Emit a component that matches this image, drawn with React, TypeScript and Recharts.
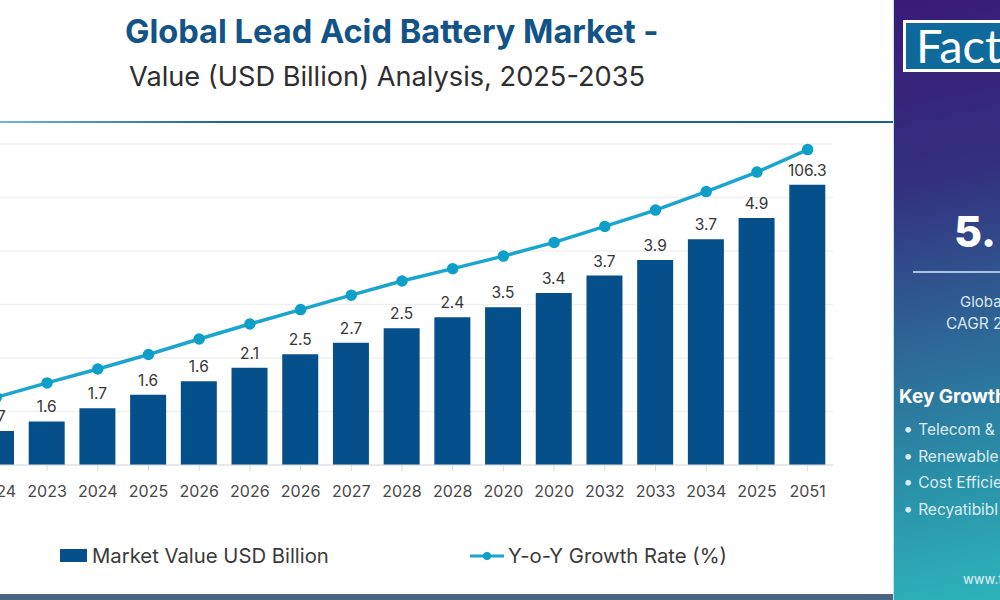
import {
  ComposedChart,
  Bar,
  Line,
  XAxis,
  YAxis,
  CartesianGrid,
  Legend,
  LabelList,
} from "recharts";

const FONT = "Inter, 'Open Sans', sans-serif";

const years = [
  "2024", "2023", "2024", "2025", "2026", "2026", "2026", "2027", "2028",
  "2028", "2020", "2020", "2032", "2033", "2034", "2025", "2051",
];

// printed labels do not follow the bar heights in the picture, so they are kept apart
const barLabels = [
  "1.7", "1.6", "1.7", "1.6", "1.6", "2.1", "2.5", "2.7", "2.5",
  "2.4", "3.5", "3.4", "3.7", "3.9", "3.7", "4.9", "106.3",
];

const marketValue = [
  12.7, 16.3, 21.2, 26.3, 31.3, 36.4, 41.4, 45.7, 51.1,
  55.2, 59, 64.3, 70.8, 76.6, 84.4, 92.3, 104.8,
];

const growthRate = [
  25.3, 30.7, 35.9, 41.3, 47.1, 52.7, 58.1, 63.5, 68.8,
  73.4, 78.1, 83.2, 89.2, 95.3, 102.2, 109.5, 117.9,
];

const yTicks = [0, 20, 40, 60, 80, 100, 120];

const drivers = ["Telecom &", "Renewable", "Cost Efficie", "Recyatibibl"];

const chartData = years.map((year, i) => ({
  year,
  label: barLabels[i],
  value: marketValue[i],
  growth: growthRate[i],
}));

function ChartLegend({ payload }: any) {
  return (
    <div style={{ position: "relative", height: 30, fontFamily: FONT, fontSize: 20.3, color: "#3a3a3a" }}>
      {(payload || []).map((item: any) =>
        item.dataKey === "value" ? (
          <div key="value" style={{ position: "absolute", left: 100, top: 2, display: "flex", alignItems: "center", whiteSpace: "nowrap" }}>
            <span style={{ width: 27, height: 13, background: item.color, marginRight: 5 }} />
            {item.value}
          </div>
        ) : (
          <div key="growth" style={{ position: "absolute", left: 509, top: 2, display: "flex", alignItems: "center", whiteSpace: "nowrap" }}>
            <svg width={36} height={14} style={{ marginRight: 3 }}>
              <line x1={1} y1={7} x2={35} y2={7} stroke={item.color} strokeWidth={3} />
              <circle cx={18} cy={7} r={4} fill="#0e9fc9" />
            </svg>
            {item.value}
          </div>
        )
      )}
    </div>
  );
}

function SidePanel() {
  return (
    <div
      style={{
        position: "absolute",
        left: 893,
        top: 0,
        width: 107,
        height: 600,
        overflow: "hidden",
        borderLeft: "1px solid #bfe3ee",
        boxSizing: "border-box",
        background: "linear-gradient(168deg, #3a1b78 0%, #33307f 30%, #2d6a98 58%, #2a8fa8 78%, #2db4ba 100%)",
        color: "#fff",
        fontFamily: FONT,
        whiteSpace: "nowrap",
      }}
    >
      <div style={{ position: "absolute", left: 9, top: 20, width: 140, height: 46, border: "3px solid #fff", background: "#0f6a9c", fontFamily: "Lato, sans-serif", fontSize: 47, lineHeight: "44px", paddingLeft: 10 }}>
        Fact
      </div>
      <div style={{ position: "absolute", left: 60, top: 205, fontSize: 43, fontWeight: 800 }}>5.</div>
      <div style={{ position: "absolute", left: 19, top: 271, width: 100, height: 2, background: "#a9c4dc" }} />
      <div style={{ position: "absolute", left: 66, top: 292, fontSize: 15, color: "#dbe8f0" }}>Global</div>
      <div style={{ position: "absolute", left: 52, top: 314, fontSize: 15.5, color: "#dbe8f0" }}>CAGR 2</div>
      <div style={{ position: "absolute", left: 5, top: 385, fontSize: 19, fontWeight: 700 }}>Key Growth</div>
      {drivers.map((d, i) => (
        <div key={d} style={{ position: "absolute", left: 9, top: 420 + i * 26.5, fontSize: 15.5, color: "#dcecf2" }}>
          <span style={{ marginRight: 5, fontSize: 18, lineHeight: "16px" }}>•</span>
          {d}
        </div>
      ))}
      <div style={{ position: "absolute", left: 69, top: 571, fontSize: 13, fontWeight: 500, color: "#d5e9ee" }}>www.f</div>
    </div>
  );
}

export default function App() {
  return (
    <div style={{ position: "absolute", left: 0, top: 0, width: 1000, height: 600, overflow: "hidden", background: "#fff" }}>
      <div style={{ position: "absolute", left: 125, top: 11, fontFamily: FONT, fontSize: 32.6, fontWeight: 700, color: "#125488", whiteSpace: "nowrap" }}>
        Global Lead Acid Battery Market -
      </div>
      <div style={{ position: "absolute", left: 129, top: 60, fontFamily: FONT, fontSize: 27.2, color: "#2e2e2e", whiteSpace: "nowrap" }}>
        Value (USD Billion) Analysis, 2025-2035
      </div>
      <div style={{ position: "absolute", left: 0, top: 121, width: 893, height: 2, background: "linear-gradient(90deg, #6fb6d6 0%, #1f6494 25%, #1f5f8e 100%)" }} />

      <div style={{ position: "absolute", left: -40, top: 0 }}>
        <ComposedChart
          width={900}
          height={600}
          data={chartData}
          margin={{ top: 144, right: 27, bottom: 105, left: 11 }}
        >
          <CartesianGrid vertical={false} stroke="#f0f0f0" strokeWidth={1.5} />
          <XAxis
            dataKey="year"
            interval={0}
            height={30}
            stroke="#dcdcdc"
            tickSize={6}
            tickMargin={15}
            tick={{ fill: "#474747", fontSize: 16, fontFamily: FONT }}
          />
          <YAxis hide domain={[0, 120]} ticks={yTicks} />
          <Legend
            verticalAlign="middle"
            wrapperStyle={{ top: 541, left: 0, width: 900 }}
            content={<ChartLegend />}
          />
          <Bar dataKey="value" name="Market Value USD Billion" fill="#05508a" barSize={36} isAnimationActive={false}>
            <LabelList dataKey="label" position="top" offset={9} fill="#363636" fontSize={15.5} fontFamily={FONT} />
          </Bar>
          <Line
            dataKey="growth"
            name="Y-o-Y Growth Rate (%)"
            type="linear"
            stroke="#1aa5cf"
            strokeWidth={3.5}
            dot={{ r: 4, fill: "#0e9fc9", stroke: "#0e9fc9" }}
            isAnimationActive={false}
          />
        </ComposedChart>
      </div>

      <SidePanel />
      <div style={{ position: "absolute", left: 0, top: 594, width: 893, height: 6, background: "#4a6683" }} />
    </div>
  );
}
